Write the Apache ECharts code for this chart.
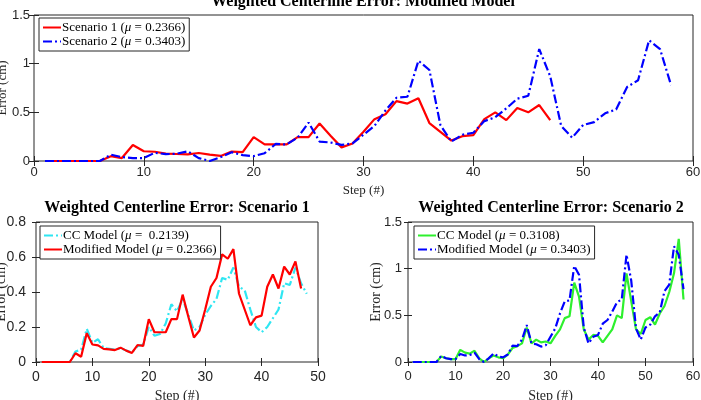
<!DOCTYPE html>
<html>
<head>
    <meta charset="utf-8">
    <title>Weighted Centerline Error</title>
    <script src="https://cdn.jsdelivr.net/npm/echarts@6/dist/echarts.min.js"></script>
    <style>
        body { margin: 0; background: #fff; }
    </style>
</head>
<body>
    <div id="main" style="width: 701px;height:400px;"></div>
    <script type="text/javascript">
        // error values per step (step = index + 1)
        var scen1Modified = [0, 0, 0, 0, 0, 0, 0.05, 0.03, 0.165, 0.10, 0.095, 0.075, 0.072, 0.068, 0.082, 0.065,
            0.052, 0.097, 0.092, 0.245, 0.17, 0.17, 0.17, 0.245, 0.245, 0.385, 0.26, 0.14, 0.18, 0.30, 0.43, 0.48,
            0.615, 0.59, 0.645, 0.39, 0.30, 0.21, 0.255, 0.265, 0.43, 0.50, 0.42, 0.545, 0.50, 0.575, 0.42];
        var scen1CC = [0, 0, 0, 0, 0, 0, 0.06, 0.07, 0.19, 0.11, 0.13, 0.08, 0.075, 0.07, 0.08, 0.065, 0.055,
            0.09, 0.10, 0.20, 0.15, 0.16, 0.22, 0.33, 0.29, 0.36, 0.27, 0.18, 0.20, 0.27, 0.32, 0.36, 0.48, 0.47,
            0.54, 0.43, 0.41, 0.30, 0.20, 0.17, 0.20, 0.25, 0.30, 0.45, 0.44, 0.54, 0.45, 0.39];
        var scen2Modified = [0, 0, 0, 0, 0, 0, 0.065, 0.04, 0.03, 0.03, 0.085, 0.07, 0.075, 0.10, 0.03, 0.0,
            0.04, 0.09, 0.06, 0.05, 0.08, 0.175, 0.17, 0.24, 0.395, 0.20, 0.19, 0.165, 0.18, 0.27, 0.36, 0.52,
            0.65, 0.66, 1.03, 0.935, 0.37, 0.20, 0.27, 0.29, 0.41, 0.45, 0.54, 0.64, 0.67, 1.15, 0.87, 0.36,
            0.24, 0.37, 0.40, 0.49, 0.53, 0.76, 0.83, 1.24, 1.15, 0.78];
        var scen2CC = [0, 0, 0, 0, 0, 0, 0.06, 0.04, 0.03, 0.03, 0.13, 0.10, 0.09, 0.12, 0.04, 0.0, 0.04, 0.07,
            0.05, 0.04, 0.08, 0.15, 0.17, 0.20, 0.37, 0.20, 0.24, 0.21, 0.22, 0.20, 0.28, 0.35, 0.47, 0.49, 0.85,
            0.70, 0.35, 0.24, 0.29, 0.28, 0.21, 0.28, 0.35, 0.50, 0.47, 0.95, 0.65, 0.35, 0.30, 0.45, 0.48, 0.40,
            0.52, 0.60, 0.75, 0.95, 1.32, 0.67];

        var titles = ['Weighted Centerline Error: Modified Model',
            'Weighted Centerline Error: Scenario 1',
            'Weighted Centerline Error: Scenario 2'];
        var xMax = [60, 50, 60];
        var yMax = [1.5, 0.8, 1.5];
        var yStep = [0.5, 0.2, 0.5];

        // legend labels: [before mu, after mu]
        var labels = {
            's1': ['Scenario 1 (', ' = 0.2366)'],
            's2': ['Scenario 2 (', ' = 0.3403)'],
            'cc1': ['CC Model (', ' =  0.2139)'],
            'mod1': ['Modified Model (', ' = 0.2366)'],
            'cc2': ['CC Model (', ' = 0.3108)'],
            'mod2': ['Modified Model (', ' = 0.3403)']
        };

        var chartDom = document.getElementById('main');
        var myChart = echarts.init(chartDom, null, {renderer: 'canvas'});

        var ink = '#262626';
        var serif = 'Liberation Serif';
        var sans = 'Liberation Sans';
        var dashDot = [9, 3, 2, 3];

        function toPairs(arr) {
            return arr.map(function (v, i) { return [i + 1, v]; });
        }

        var grids = [
            {left: 34, top: 15, width: 659, height: 146},
            {left: 36, top: 222, width: 282, height: 140},
            {left: 408, top: 222, width: 285, height: 140}
        ];
        var tickFont = [13, 14, 13];
        var yLabelMargin = [4, 10, 6];
        var xLabelMargin = [5, 8, 8];
        var yNameGap = [25, 28, 25];
        var xNameGap = [23, 27, 27];
        var tickLen = [5, 4, 4];

        var xAxes = [], yAxes = [];
        grids.forEach(function (g, i) {
            g.show = true;
            g.borderColor = ink;
            g.borderWidth = 1;
            g.backgroundColor = '#fff';
            g.outerBoundsMode = 'none';
            g.containLabel = false;
            xAxes.push({
                type: 'value', gridIndex: i, min: 0, max: xMax[i], interval: 10,
                name: 'Step (#)', nameLocation: 'middle', nameGap: xNameGap[i], nameMoveOverlap: false,
                nameTextStyle: {fontFamily: serif, fontSize: i === 0 ? 13 : 14, color: ink},
                axisLine: {show: false},
                axisTick: {inside: true, length: tickLen[i], lineStyle: {color: ink}},
                axisLabel: {fontFamily: sans, fontSize: tickFont[i], color: ink, margin: xLabelMargin[i]},
                splitLine: {show: false}
            });
            xAxes.push({
                type: 'value', gridIndex: i, min: 0, max: xMax[i], interval: 10, position: 'top',
                axisLine: {show: false},
                axisTick: {inside: true, length: tickLen[i], lineStyle: {color: ink}},
                axisLabel: {show: false},
                splitLine: {show: false}
            });
            yAxes.push({
                type: 'value', gridIndex: i, min: 0, max: yMax[i], interval: yStep[i],
                name: 'Error (cm)', nameLocation: 'middle', nameGap: yNameGap[i], nameMoveOverlap: false,
                nameTextStyle: {fontFamily: serif, fontSize: i === 0 ? 13 : 14, color: ink},
                axisLine: {show: false},
                axisTick: {inside: true, length: tickLen[i], lineStyle: {color: ink}},
                axisLabel: {fontFamily: sans, fontSize: tickFont[i], color: ink, margin: yLabelMargin[i]},
                splitLine: {show: false}
            });
            yAxes.push({
                type: 'value', gridIndex: i, min: 0, max: yMax[i], interval: yStep[i], position: 'right',
                axisLine: {show: false},
                axisTick: {inside: true, length: tickLen[i], lineStyle: {color: ink}},
                axisLabel: {show: false},
                splitLine: {show: false}
            });
        });

        function line(id, grid, data, color, type) {
            return {
                type: 'line', name: id, xAxisIndex: grid * 2, yAxisIndex: grid * 2,
                data: toPairs(data), showSymbol: false, symbol: 'none', animation: false,
                lineStyle: {color: color, width: 2.2, type: type},
                itemStyle: {color: color}
            };
        }

        function legend(ids, left, top) {
            return {
                data: ids, orient: 'vertical', left: left, top: top,
                backgroundColor: '#fff', borderColor: ink, borderWidth: 1,
                padding: [3, 4, 3, 3], itemGap: 1, itemWidth: 18, itemHeight: 13,
                selectedMode: false,
                itemStyle: {opacity: 0},
                formatter: function (name) {
                    var l = labels[name];
                    return '{t|' + l[0] + '}{i|μ}{t|' + l[1] + '}';
                },
                textStyle: {
                    padding: [0, 0, 0, -4],
                    rich: {
                        t: {fontFamily: serif, fontSize: 13, color: '#000'},
                        i: {fontFamily: serif, fontSize: 13, color: '#000', fontStyle: 'italic'}
                    }
                }
            };
        }

        var option = {
            animation: false,
            title: [
                {text: titles[0], left: 363, top: -6, textAlign: 'center', padding: 0,
                    textStyle: {fontFamily: serif, fontSize: 16, fontWeight: 'bold', color: '#000'}},
                {text: titles[1], left: 177, top: 200, textAlign: 'center', padding: 0,
                    textStyle: {fontFamily: serif, fontSize: 16, fontWeight: 'bold', color: '#000'}},
                {text: titles[2], left: 551, top: 200, textAlign: 'center', padding: 0,
                    textStyle: {fontFamily: serif, fontSize: 16, fontWeight: 'bold', color: '#000'}}
            ],
            legend: [
                legend(['s1', 's2'], 39, 18),
                legend(['cc1', 'mod1'], 40, 226),
                legend(['cc2', 'mod2'], 414, 226)
            ],
            grid: grids,
            xAxis: xAxes,
            yAxis: yAxes,
            series: [
                line('s1', 0, scen1Modified, '#ff0000', 'solid'),
                line('s2', 0, scen2Modified, '#0000ff', dashDot),
                line('cc1', 1, scen1CC, '#2ee6f2', dashDot),
                line('mod1', 1, scen1Modified, '#ff0000', 'solid'),
                line('cc2', 2, scen2CC, '#2ef02e', 'solid'),
                line('mod2', 2, scen2Modified, '#0000ff', dashDot)
            ]
        };
        myChart.setOption(option);
    </script>
</body>
</html>
